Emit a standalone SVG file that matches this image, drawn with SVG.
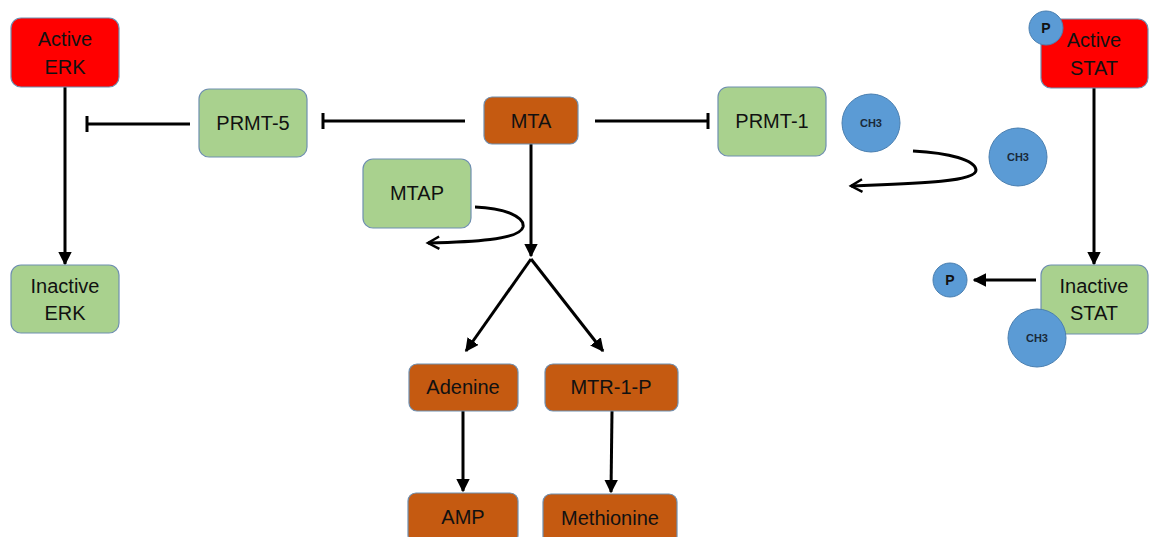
<svg xmlns="http://www.w3.org/2000/svg" width="1155" height="537" viewBox="0 0 1155 537">
  <style>
    .box { stroke: #6f8fb0; stroke-width: 1.2; }
    .red { fill: #ff0000; }
    .green { fill: #a9d18e; }
    .brown { fill: #c55a11; }
    .dot { fill: #5b9bd5; stroke: #4a7fb0; stroke-width: 1; }
    .lbl { font-family: "Liberation Sans", Arial, sans-serif; font-size: 20px; fill: #111; text-anchor: middle; }
    .sm { font-family: "Liberation Sans", Arial, sans-serif; font-size: 11px; font-weight: bold; fill: #1a2a3a; text-anchor: middle; }
    .p { font-family: "Liberation Sans", Arial, sans-serif; font-size: 14px; font-weight: bold; fill: #111; text-anchor: middle; }
    .ln { stroke: #000; stroke-width: 3; fill: none; }
  </style>
  <defs>
    <marker id="tri" viewBox="0 0 10 10" refX="9" refY="5" markerWidth="4.5" markerHeight="4.5" orient="auto" markerUnits="strokeWidth">
      <path d="M0,0 L10,5 L0,10 Z" fill="#000"/>
    </marker>
    <marker id="chev" viewBox="0 0 12 12" refX="10" refY="6" markerWidth="5" markerHeight="5" orient="auto" markerUnits="strokeWidth">
      <path d="M1,1 L10,6 L1,11" fill="none" stroke="#000" stroke-width="2"/>
    </marker>
  </defs>

  <g id="connectors">
    <!-- ERK activation to inactivation -->
    <line class="ln" x1="65" y1="87" x2="65" y2="264" marker-end="url(#tri)"/>
    <!-- PRMT-5 inhibits ERK -->
    <line class="ln" x1="190" y1="124" x2="87" y2="124"/>
    <line class="ln" x1="87" y1="116" x2="87" y2="132"/>
    <!-- MTA inhibits PRMT-5 -->
    <line class="ln" x1="465" y1="121" x2="323" y2="121"/>
    <line class="ln" x1="323" y1="113" x2="323" y2="129"/>
    <!-- MTA inhibits PRMT-1 -->
    <line class="ln" x1="595" y1="121" x2="708" y2="121"/>
    <line class="ln" x1="708" y1="113" x2="708" y2="129"/>
    <!-- MTA breakdown -->
    <line class="ln" x1="531" y1="144" x2="531" y2="256" marker-end="url(#tri)"/>
    <line class="ln" x1="531" y1="259" x2="466" y2="351" marker-end="url(#tri)"/>
    <line class="ln" x1="531" y1="259" x2="603" y2="351" marker-end="url(#tri)"/>
    <line class="ln" x1="463" y1="411" x2="463" y2="491" marker-end="url(#tri)"/>
    <line class="ln" x1="612" y1="411" x2="611" y2="492" marker-end="url(#tri)"/>
    <!-- MTAP curl -->
    <path class="ln" d="M475,207 C505,208 525,217 523,227 C520,240 470,242 428,243" marker-end="url(#chev)"/>
    <!-- methyl transfer curl -->
    <path class="ln" d="M913,151 C950,153 975,160 976,170 C977,183 900,184 851,186" marker-end="url(#chev)"/>
    <!-- STAT deactivation -->
    <line class="ln" x1="1094" y1="88" x2="1094" y2="264" marker-end="url(#tri)"/>
    <line class="ln" x1="1036" y1="280" x2="974" y2="280" marker-end="url(#tri)"/>
  </g>

  <g id="active-erk">
    <rect class="box red" x="11" y="18" width="108" height="69" rx="10"/>
    <text class="lbl" x="65" y="46">Active</text>
    <text class="lbl" x="65" y="74">ERK</text>
  </g>
  <g id="inactive-erk">
    <rect class="box green" x="11" y="265" width="108" height="68" rx="10"/>
    <text class="lbl" x="65" y="293">Inactive</text>
    <text class="lbl" x="65" y="320">ERK</text>
  </g>
  <g id="prmt-5">
    <rect class="box green" x="199" y="89" width="108" height="68" rx="10"/>
    <text class="lbl" x="253" y="130">PRMT-5</text>
  </g>
  <g id="mta">
    <rect class="box brown" x="484" y="97" width="94" height="47" rx="8"/>
    <text class="lbl" x="531" y="128">MTA</text>
  </g>
  <g id="mtap">
    <rect class="box green" x="363" y="159" width="108" height="69" rx="10"/>
    <text class="lbl" x="417" y="200">MTAP</text>
  </g>
  <g id="prmt-1">
    <rect class="box green" x="718" y="87" width="108" height="69" rx="10"/>
    <text class="lbl" x="772" y="128">PRMT-1</text>
  </g>
  <g id="ch3-a">
    <circle class="dot" cx="871" cy="123" r="29"/>
    <text class="sm" x="871" y="127">CH3</text>
  </g>
  <g id="ch3-b">
    <circle class="dot" cx="1018" cy="157" r="29"/>
    <text class="sm" x="1018" y="161">CH3</text>
  </g>
  <g id="adenine">
    <rect class="box brown" x="409" y="364" width="109" height="47" rx="8"/>
    <text class="lbl" x="463" y="394">Adenine</text>
  </g>
  <g id="mtr-1-p">
    <rect class="box brown" x="545" y="364" width="133" height="47" rx="8"/>
    <text class="lbl" x="611" y="394">MTR-1-P</text>
  </g>
  <g id="amp">
    <rect class="box brown" x="408" y="493" width="110" height="50" rx="8"/>
    <text class="lbl" x="463" y="524">AMP</text>
  </g>
  <g id="methionine">
    <rect class="box brown" x="543" y="494" width="134" height="50" rx="8"/>
    <text class="lbl" x="610" y="525">Methionine</text>
  </g>
  <g id="active-stat">
    <rect class="box red" x="1041" y="19" width="107" height="69" rx="10"/>
    <text class="lbl" x="1094" y="47">Active</text>
    <text class="lbl" x="1094" y="75">STAT</text>
    <circle class="dot" cx="1046" cy="28" r="17"/>
    <text class="p" x="1046" y="33">P</text>
  </g>
  <g id="inactive-stat">
    <rect class="box green" x="1041" y="265" width="107" height="69" rx="10"/>
    <text class="lbl" x="1094" y="293">Inactive</text>
    <text class="lbl" x="1094" y="320">STAT</text>
    <circle class="dot" cx="1037" cy="338" r="29"/>
    <text class="sm" x="1037" y="342">CH3</text>
  </g>
  <g id="free-p">
    <circle class="dot" cx="950" cy="280" r="17"/>
    <text class="p" x="950" y="285">P</text>
  </g>
</svg>
